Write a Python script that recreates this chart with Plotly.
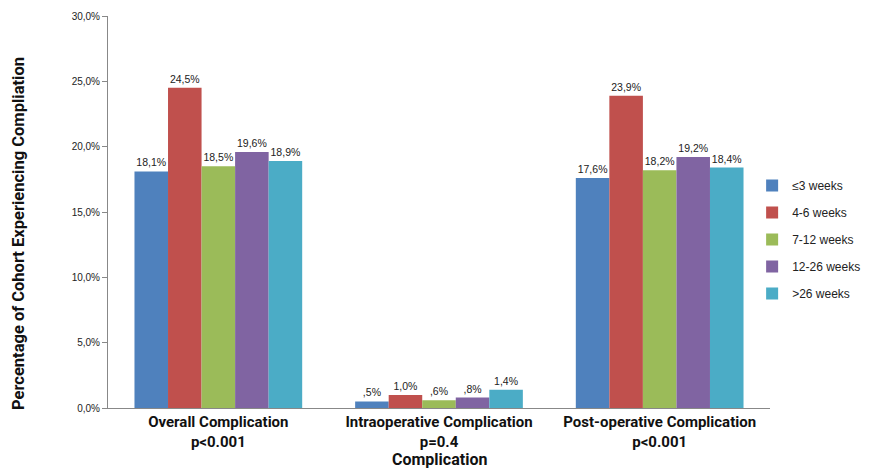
import plotly.graph_objects as go

categories = ["Overall Complication<br>p&lt;0.001", "Intraoperative Complication<br>p=0.4", "Post-operative Complication<br>p&lt;0.001"]
series_names = ["≤3 weeks", "4-6 weeks", "7-12 weeks", "12-26 weeks", ">26 weeks"]
v_le3 = [18.1, 0.5, 17.6]
v_4_6 = [24.5, 1.0, 23.9]
v_7_12 = [18.5, 0.6, 18.2]
v_12_26 = [19.6, 0.8, 19.2]
v_gt26 = [18.9, 1.4, 18.4]
tick_vals = [0, 5, 10, 15, 20, 25, 30]
tick_text = ["0,0%", "5,0%", "10,0%", "15,0%", "20,0%", "25,0%", "30,0%"]

colors = ["#4F81BD", "#C0504D", "#9BBB59", "#8064A2", "#4BACC6"]
series = [v_le3, v_4_6, v_7_12, v_12_26, v_gt26]

BOLD_FONT = "Roboto, Liberation Sans, Arial"


def fmt(v):
    s = f"{v:.1f}".replace(".", ",")
    if s.startswith("0,"):
        s = s[1:]
    return s + "%"


fig = go.Figure()
for i, (name, vals, col) in enumerate(zip(series_names, series, colors)):
    fig.add_trace(go.Bar(
        x=categories, y=vals, name=name, legendgroup=f"g{i}",
        marker=dict(color=col, line=dict(width=0)),
        text=[fmt(v) for v in vals], textposition="outside",
        textfont=dict(family="Liberation Sans, Arial", size=10.5, color="#222"),
        cliponaxis=False,
    ))

# page body has an 8px margin: the figure is sized and offset to compensate
fig.update_layout(
    width=869, height=463,
    margin=dict(l=100, r=107, t=8, b=63, autoexpand=False),
    paper_bgcolor="white", plot_bgcolor="white",
    barmode="group", bargap=0.24, bargroupgap=0,
    showlegend=True,
    legend=dict(x=0.973, y=0.43, xanchor="left", yanchor="middle",
                bgcolor="rgba(0,0,0,0)",
                font=dict(family="Liberation Sans, Arial", size=12, color="#222"),
                tracegroupgap=8, itemwidth=30),
    xaxis=dict(
        showline=True, linecolor="#888", linewidth=1, automargin=False,
        ticks="", tickangle=0,
        tickfont=dict(family=BOLD_FONT, size=15, color="#111", weight="bold"),
    ),
    yaxis=dict(
        range=[0, 30], tickvals=tick_vals, ticktext=tick_text, automargin=False,
        showline=True, linecolor="#888", linewidth=1,
        ticks="outside", ticklen=5, tickcolor="#888",
        showgrid=False, zeroline=False,
        tickfont=dict(family="Liberation Sans, Arial", size=10, color="#222"),
    ),
    annotations=[
        dict(text="Complication", xref="paper", yref="paper", x=0.5, y=0,
             xanchor="center", yanchor="middle", yshift=-51, showarrow=False,
             font=dict(family=BOLD_FONT, size=16, color="#111", weight="bold")),
        dict(text="Percentage of Cohort Experiencing Compliation", xref="paper", yref="paper",
             x=0, y=0.5, xanchor="center", yanchor="middle", xshift=-90, yshift=-22,
             textangle=-90, showarrow=False,
             font=dict(family=BOLD_FONT, size=16.5, color="#111", weight="bold")),
    ],
)

fig.write_html("out.html")
